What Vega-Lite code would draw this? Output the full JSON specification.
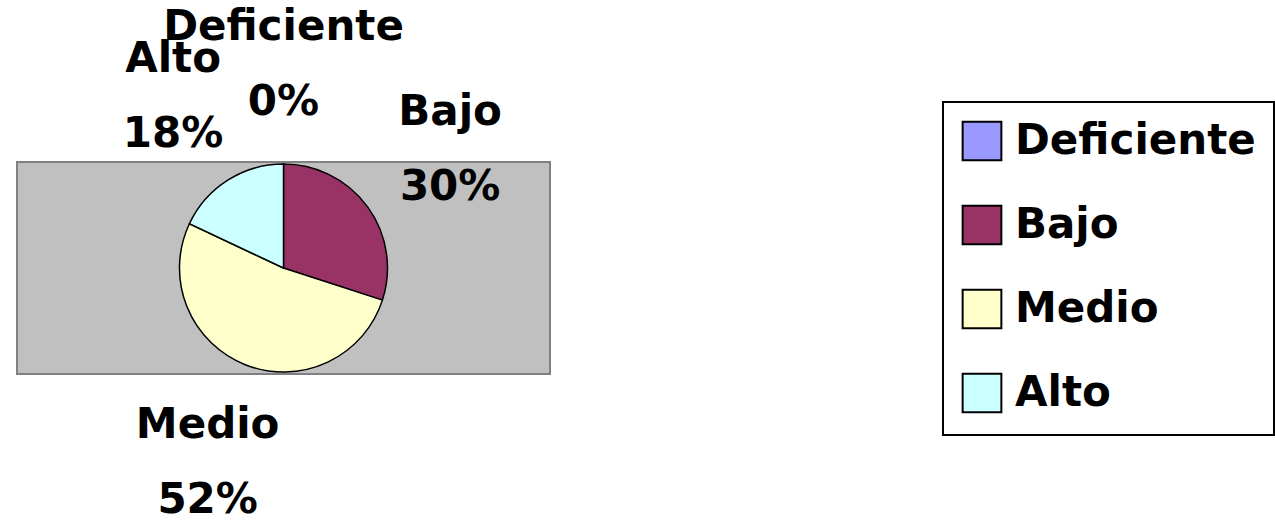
{
  "$schema": "https://vega.github.io/schema/vega-lite/v6.json",
  "width": 533,
  "height": 212,
  "padding": {"left": 17, "top": 162, "right": 725, "bottom": 148},
  "autosize": {"type": "none"},
  "background": "white",
  "view": {"fill": "#C0C0C0", "stroke": "#808080", "strokeWidth": 2},
  "data": {
    "values": [
      {"categoria": "Deficiente", "valor": 0, "pct": "0%", "orden": 1},
      {"categoria": "Bajo", "valor": 30, "pct": "30%", "orden": 2},
      {"categoria": "Medio", "valor": 52, "pct": "52%", "orden": 3},
      {"categoria": "Alto", "valor": 18, "pct": "18%", "orden": 4}
    ]
  },
  "transform": [{"calculate": "datum.categoria + '\\n' + datum.pct", "as": "etiqueta"}],
  "encoding": {
    "theta": {"field": "valor", "type": "quantitative", "stack": true},
    "order": {"field": "orden", "type": "quantitative"}
  },
  "layer": [
    {
      "mark": {"type": "arc", "outerRadius": 104, "stroke": "black", "strokeWidth": 1.5},
      "encoding": {
        "color": {
          "field": "categoria",
          "type": "nominal",
          "sort": ["Deficiente", "Bajo", "Medio", "Alto"],
          "scale": {"domain": ["Deficiente", "Bajo", "Medio", "Alto"], "range": ["#9999FF", "#993366", "#FFFFCC", "#CCFFFF"]},
          "legend": {
            "orient": "none",
            "legendX": 926,
            "legendY": -60,
            "title": null,
            "symbolType": "square",
            "symbolSize": 1500,
            "symbolStrokeColor": "black",
            "symbolStrokeWidth": 2,
            "symbolOpacity": 1,
            "labelFont": "DejaVu Sans",
            "labelFontWeight": "bold",
            "labelFontSize": 42,
            "labelColor": "black",
            "labelOffset": 12,
            "labelLimit": 400,
            "rowPadding": 36,
            "padding": 18,
            "strokeColor": "black",
            "fillColor": "white",
            "encode": {"legend": {"update": {"strokeWidth": {"value": 2}}}}
          }
        }
      }
    },
    {
      "mark": {"type": "text", "radius": 206, "dy": -35, "font": "DejaVu Sans", "fontWeight": "bold", "fontSize": 42, "lineBreak": "\n", "lineHeight": 75, "align": "center", "baseline": "middle", "color": "black"},
      "encoding": {"text": {"field": "etiqueta", "type": "nominal"}}
    }
  ]
}
